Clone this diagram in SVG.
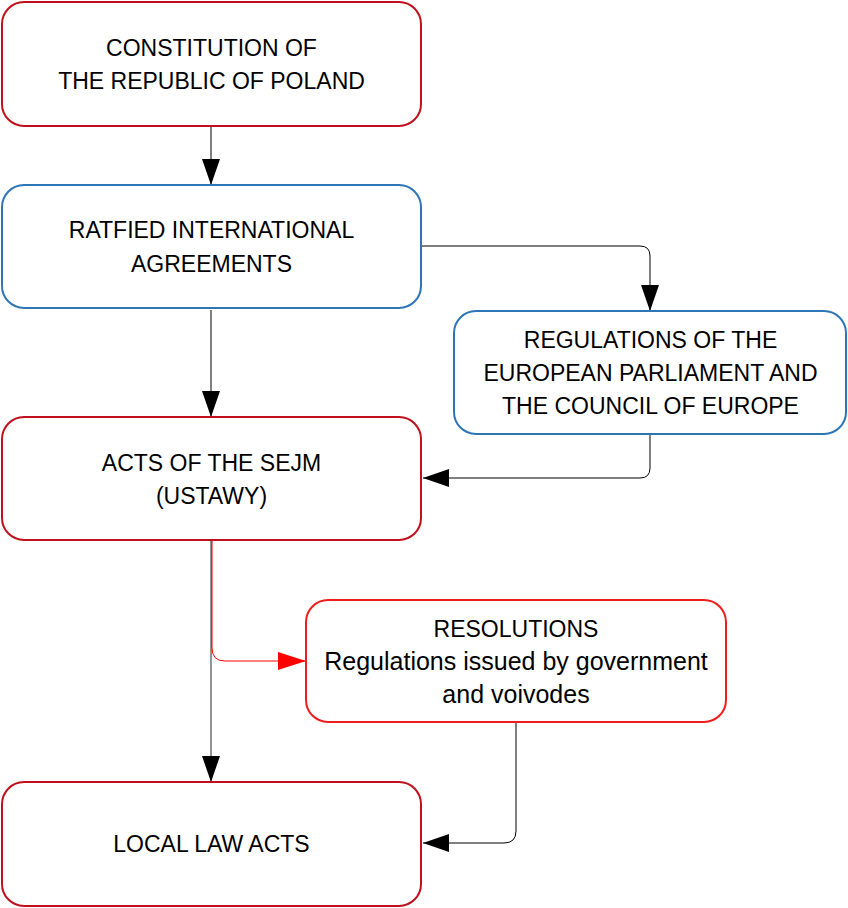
<svg xmlns="http://www.w3.org/2000/svg" width="848" height="908" viewBox="0 0 848 908">
<style>
.box{fill:#ffffff;stroke-width:2}
.dr{stroke:#c0101c}
.bl{stroke:#2e75b6}
.br{stroke:#ee1c1c}
text{font-family:"Liberation Sans",Arial,sans-serif;font-size:23px;fill:#000;text-anchor:middle}
.lc{font-size:25px}
.con{fill:none;stroke:#000;stroke-width:1}
</style>
<defs>
<marker id="ah" viewBox="0 0 26 18" refX="26" refY="9" markerWidth="26" markerHeight="18" markerUnits="userSpaceOnUse" orient="auto">
<path d="M0,0 L26,9 L0,18 z" fill="#000"/>
</marker>
<marker id="ahr" viewBox="0 0 28 18" refX="28" refY="9" markerWidth="28" markerHeight="18" markerUnits="userSpaceOnUse" orient="auto">
<path d="M0,0 L28,9 L0,18 z" fill="#ff0000"/>
</marker>
</defs>
<rect width="848" height="908" fill="#ffffff"/>
<g id="connectors">
<path class="con" d="M211,126 V185" marker-end="url(#ah)"/>
<path class="con" d="M421,246 H640 Q650,246 650,256 V311" marker-end="url(#ah)"/>
<path class="con" d="M211,310 V417" marker-end="url(#ah)"/>
<path class="con" d="M650,434 V468 Q650,478 640,478 H423" marker-end="url(#ah)"/>
<path d="M212,540 V648 Q212,661 225,661 H306" fill="none" stroke="#ff0000" stroke-width="1" marker-end="url(#ahr)"/>
<path class="con" d="M211,540 V782" marker-end="url(#ah)" stroke-opacity="0.85"/>
<path class="con" d="M516,722 V831 Q516,843 504,843 H423" marker-end="url(#ah)"/>
</g>
<g id="constitution">
<rect class="box dr" x="2" y="2" width="419" height="124" rx="22"/>
<text x="211.5" y="56">CONSTITUTION OF</text>
<text x="211.5" y="89">THE REPUBLIC OF POLAND</text>
</g>
<g id="international">
<rect class="box bl" x="2" y="185" width="419" height="123" rx="22"/>
<text x="211.5" y="238">RATFIED INTERNATIONAL</text>
<text x="211.5" y="272">AGREEMENTS</text>
</g>
<g id="eu-regulations">
<rect class="box bl" x="454" y="311" width="392" height="123" rx="22"/>
<text x="650.5" y="348">REGULATIONS OF THE</text>
<text x="650.5" y="381">EUROPEAN PARLIAMENT AND</text>
<text x="650.5" y="414">THE COUNCIL OF EUROPE</text>
</g>
<g id="sejm">
<rect class="box dr" x="2" y="417" width="419" height="123" rx="22"/>
<text x="211.5" y="471">ACTS OF THE SEJM</text>
<text x="211.5" y="504">(USTAWY)</text>
</g>
<g id="resolutions">
<rect class="box br" x="306" y="600" width="420" height="122" rx="22"/>
<text x="516" y="637">RESOLUTIONS</text>
<text class="lc" x="516" y="670">Regulations issued by government</text>
<text class="lc" x="516" y="703">and voivodes</text>
</g>
<g id="local">
<rect class="box dr" x="2" y="782" width="419" height="124" rx="22"/>
<text x="211.5" y="852">LOCAL LAW ACTS</text>
</g>
</svg>
